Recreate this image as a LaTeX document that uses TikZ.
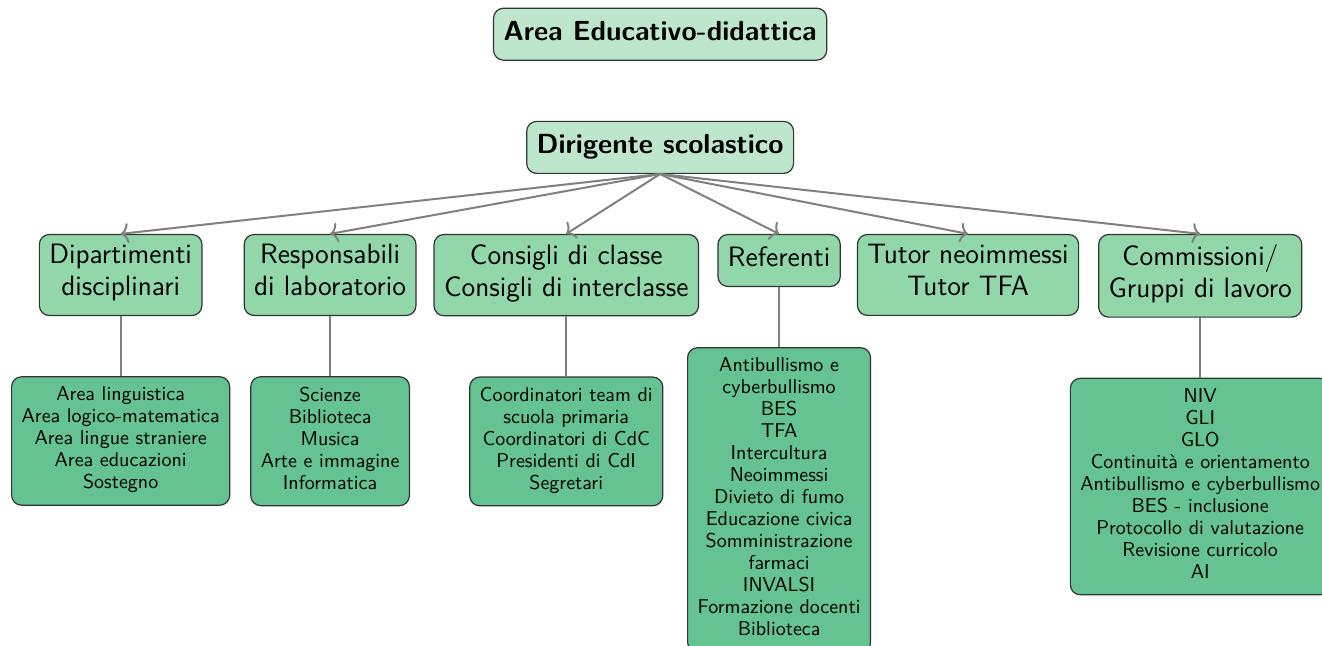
\documentclass[tikz,border=0pt]{standalone}
\usepackage{fontspec}
\usetikzlibrary{positioning,arrows.meta}
\definecolor{titlegreen}{RGB}{190,230,205}
\definecolor{midgreen}{RGB}{145,215,170}
\definecolor{leafgreen}{RGB}{100,195,145}
\tikzset{
  box/.style={draw=black!80, semithick, rounded corners=5pt, align=center,
    inner xsep=5pt, inner ysep=5pt,
    execute at begin node={\strut}, execute at end node={\strut}},
  topbox/.style={box, fill=titlegreen, font=\sffamily\bfseries\fontsize{13.8}{16}\selectfont},
  midbox/.style={box, fill=midgreen, anchor=north, font=\sffamily\fontsize{14}{16}\selectfont},
  leafbox/.style={box, fill=leafgreen, font=\sffamily\fontsize{10}{11}\selectfont},
  arrow/.style={-{To[length=4pt,width=10pt]}, gray, line width=1pt},
  link/.style={gray, line width=1pt}
}
\begin{document}
\begin{tikzpicture}
\useasboundingbox (0,0) rectangle (23.23,-11.35);

\node[topbox] (dir) at (11.60,-2.59) {Dirigente scolastico};
\node[topbox, above=30pt of dir] (area) {Area Educativo-didattica};

% secondo livello
\node[midbox] (dip) at (2.12,-4.11) {Dipartimenti\\disciplinari};
\node[midbox] (resp) at (5.80,-4.11) {Responsabili\\di laboratorio};
\node[midbox] (cons) at (9.95,-4.11) {Consigli di classe\\Consigli di interclasse};
\node[midbox] (ref) at (13.69,-4.11) {Referenti};
\node[midbox] (tut) at (17.01,-4.11) {Tutor neoimmessi\\Tutor TFA};
\node[midbox] (comm) at (21.09,-4.11) {Commissioni/\\Gruppi di lavoro};

% terzo livello
\node[leafbox, below=30pt of dip] (dipl) {Area linguistica\\Area logico-matematica\\Area lingue straniere\\Area educazioni\\Sostegno};
\node[leafbox, below=30pt of resp] (respl) {Scienze\\Biblioteca\\Musica\\Arte e immagine\\Informatica};
\node[leafbox, below=30pt of cons] (consl) {Coordinatori team di\\scuola primaria\\Coordinatori di CdC\\Presidenti di CdI\\Segretari};
\node[leafbox, below=30pt of ref] (refl) {Antibullismo e\\cyberbullismo\\BES\\TFA\\Intercultura\\Neoimmessi\\Divieto di fumo\\Educazione civica\\Somministrazione\\farmaci\\INVALSI\\Formazione docenti\\Biblioteca};
\node[leafbox, below=30pt of comm] (comml) {NIV\\GLI\\GLO\\Continuità e orientamento\\Antibullismo e cyberbullismo\\BES - inclusione\\Protocollo di valutazione\\Revisione curricolo\\AI};

\foreach \n in {dip,resp,cons,ref,tut,comm}
  \draw[arrow] (dir.south) -- (\n.north);
\foreach \a/\b in {dip/dipl,resp/respl,cons/consl,ref/refl,comm/comml}
  \draw[link] (\a) -- (\b);

\end{tikzpicture}
\end{document}
